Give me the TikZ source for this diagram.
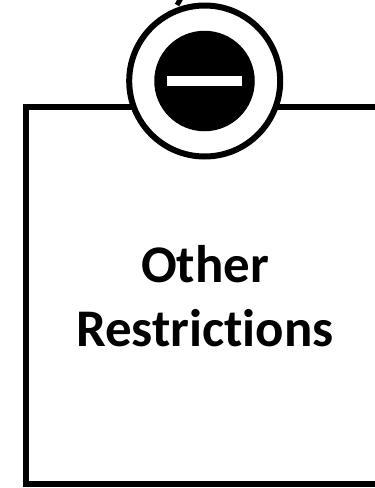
\documentclass[tikz,border=0pt]{standalone}
\usepackage{fontspec}
\setmainfont[Ligatures=NoCommon]{Carlito}
\tikzset{
  heavy/.style={draw=black,line width=6pt},
  ring/.style={circle,draw=black,fill=white,line width=6pt,minimum size=151pt,inner sep=0pt},
  disc/.style={circle,fill=black,minimum size=100.5pt,inner sep=0pt},
  minusbar/.style={fill=white,minimum width=74.5pt,minimum height=10.3pt,inner sep=0pt},
  caption/.style={font=\fontsize{52.9}{64}\selectfont\bfseries,align=center,text=black}
}
\begin{document}
\begin{tikzpicture}[x=1pt,y=-1pt]
\useasboundingbox (0,0) rectangle (375,488);
\fill[white] (0,0) rectangle (375,488);
\coordinate (tr) at (378,107);
\coordinate (tl) at (26,107);
\coordinate (bl) at (26,484);
\coordinate (br) at (378,484);
\draw[heavy,line join=miter] (tr) -- (tl) -- (bl) -- (br);
\coordinate (tickA) at (180.5,-1);
\coordinate (tickB) at (177,5);
\draw[line width=5pt] (tickA) -- (tickB);
\node[ring] (ring) at (204.7,81) {};
\node[disc] (disc) at (204.5,81) {};
\node[minusbar] (bar) at (204.5,81) {};
\node[caption] (label) at (205,296) {Other\\Restrictions};
\end{tikzpicture}
\end{document}
